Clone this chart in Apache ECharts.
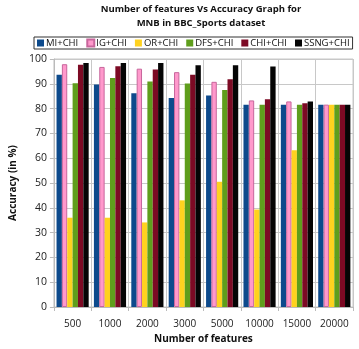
<!DOCTYPE html>
<html lang="en">
<head>
    <meta charset="UTF-8">
    <title>Accuracy</title>
    <style>
        * { margin: 0; padding: 0; }
        #main { width: 359px; height: 349px; background: #fff; }
    </style>
</head>
<body>
    <div id="main"></div>
</body>
<script src="https://cdn.jsdelivr.net/npm/echarts@6/dist/echarts.min.js"></script>
<script>
    // values
    let features = ['500', '1000', '2000', '3000', '5000', '10000', '15000', '20000'];
    let miChi = [93.6, 89.7, 86.2, 84.3, 85.3, 81.6, 81.6, 81.6];
    let igChi = [97.9, 96.8, 96.1, 94.7, 90.8, 83.3, 82.9, 81.6];
    let orChi = [36, 36, 34.1, 43, 50.5, 39.3, 63.2, 81.6];
    let dfsChi = [90.2, 92.3, 90.9, 90.1, 87.5, 81.6, 81.6, 81.6];
    let chiChi = [97.7, 97.1, 95.8, 93.6, 91.8, 83.8, 82.2, 81.6];
    let ssngChi = [98.4, 98.4, 98.4, 97.5, 97.5, 97.0, 82.9, 81.6];

    let names = ['MI+CHI', 'IG+CHI', 'OR+CHI', 'DFS+CHI', 'CHI+CHI', 'SSNG+CHI'];
    let values = [miChi, igChi, orChi, dfsChi, chiChi, ssngChi];
    let colors = ['#0d4a8c', '#ff99cc', '#ffd21f', '#5f9e1c', '#7c0a24', '#050505'];
    let borders = ['#0d4a8c', '#c8669c', '#ffd21f', '#5f9e1c', '#7c0a24', '#050505'];

    let font = '"Open Sans", sans-serif';

    let series = names.map((name, i) => {
        return {
            name: name,
            type: 'bar',
            data: values[i],
            barGap: '0%',
            barCategoryGap: '14%',
            itemStyle: {
                color: colors[i],
                borderColor: borders[i],
                borderWidth: i === 1 ? 1 : 0
            }
        }
    })

    let option = {
        animation: false,
        title: {
            text: 'Number of features Vs Accuracy Graph for\nMNB in BBC_Sports dataset',
            left: 196,
            textAlign: 'center',
            top: -3,
            textStyle: {
                fontFamily: font,
                fontSize: 9.5,
                fontWeight: 'bold',
                lineHeight: 14,
                color: '#111'
            }
        },
        legend: {
            top: 37,
            left: 34,
            itemWidth: 7,
            itemHeight: 7,
            itemGap: 8,
            padding: [1, 3, 1, 3],
            borderColor: '#333',
            borderWidth: 1,
            borderRadius: 0,
            icon: 'rect',
            textStyle: {
                fontFamily: font,
                fontSize: 9.5,
                color: '#111',
                padding: [0, 0, 0, -3]
            }
        },
        grid: {
            left: 43,
            right: 6,
            top: 59,
            bottom: 37,
            show: true,
            borderColor: '#c8c8c8',
            borderWidth: 1
        },
        xAxis: {
            type: 'category',
            data: features,
            name: 'Number of features',
            nameLocation: 'middle',
            nameGap: 27,
            nameTextStyle: {
                fontFamily: font,
                fontSize: 10,
                fontWeight: 'bold',
                color: '#111'
            },
            axisLine: { lineStyle: { color: '#bbb' } },
            axisTick: { show: true, length: 4, interval: 0, lineStyle: { color: '#bbb' } },
            splitLine: { show: true, interval: 0, lineStyle: { color: '#c8c8c8' } },
            axisLabel: {
                interval: 0,
                fontFamily: font,
                fontSize: 10,
                color: '#222',
                margin: 12
            }
        },
        yAxis: {
            type: 'value',
            min: 0,
            max: 100,
            interval: 10,
            name: 'Accuracy (in %)',
            nameLocation: 'middle',
            nameGap: 29,
            nameTextStyle: {
                fontFamily: font,
                fontSize: 10,
                fontWeight: 'bold',
                color: '#111'
            },
            axisLine: { show: true, lineStyle: { color: '#bbb' } },
            axisTick: { show: true, length: 4, lineStyle: { color: '#bbb' } },
            splitLine: { show: true, lineStyle: { color: '#c8c8c8' } },
            axisLabel: {
                fontFamily: font,
                fontSize: 10.5,
                color: '#222',
                margin: 7
            }
        },
        series: series
    }
    initChart(option)

    function initChart(option) {
        let myCharts = echarts.init(document.getElementById('main'))
        myCharts.clear()
        myCharts.setOption(option)
    }
</script>
</html>
